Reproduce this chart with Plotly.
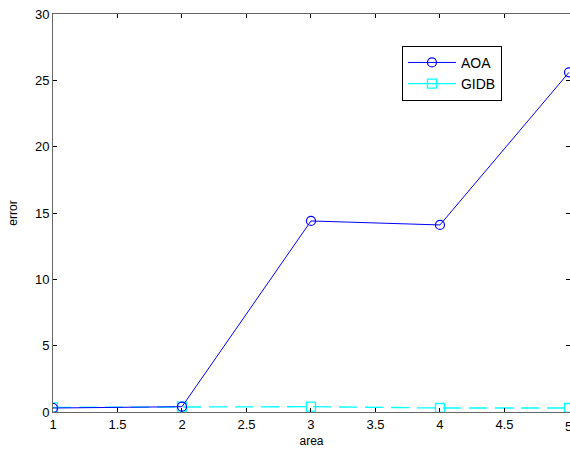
import plotly.graph_objects as go

area = [1, 2, 3, 4, 5]
aoa = [0.3, 0.4, 14.4, 14.1, 25.6]
gidb = [0.35, 0.4, 0.4, 0.3, 0.3]

x_ticks = [1, 1.5, 2, 2.5, 3, 3.5, 4, 4.5, 5]
y_ticks = [0, 5, 10, 15, 20, 25, 30]

font = dict(family="Liberation Sans, Arial, sans-serif", size=13, color="#000")

fig = go.Figure()
fig.add_trace(go.Scatter(
    x=area, y=gidb, mode="lines+markers", name="GIDB", showlegend=False,
    line=dict(color="#00ffff", width=1.3, dash="18px,8px"),
    marker=dict(symbol="square-open", size=9, color="#00ffff", line=dict(width=1.3)),
))
fig.add_trace(go.Scatter(
    x=area, y=aoa, mode="lines+markers", name="AOA",
    line=dict(color="#0000ff", width=1),
    marker=dict(symbol="circle-open", size=9, color="#0000ff", line=dict(width=1.2)),
))
fig.add_trace(go.Scatter(
    x=[None], y=[None], mode="lines+markers", name="GIDB",
    line=dict(color="#00ffff", width=1.3),
    marker=dict(symbol="square-open", size=9, color="#00ffff", line=dict(width=1.3)),
))
# invisible trace to carry the right-hand tick axis
fig.add_trace(go.Scatter(
    x=[None], y=[None], yaxis="y2", showlegend=False, hoverinfo="skip",
))

fig.update_layout(
    width=570, height=452,
    margin=dict(l=53, r=0, t=14, b=40),
    paper_bgcolor="white", plot_bgcolor="white",
    font=font,
    showlegend=True,
    legend=dict(
        x=0.675, y=0.92, xanchor="left", yanchor="top",
        bordercolor="#000", borderwidth=1, bgcolor="white",
        font=dict(size=14), tracegroupgap=0, itemwidth=48,
    ),
    xaxis=dict(
        range=[1, 5.008], tickvals=x_ticks[:-1], ticktext=[str(v) for v in x_ticks[:-1]],
        ticks="inside", ticklen=4, tickcolor="#000", showline=True, linecolor="#666",
        linewidth=1, mirror="ticks", showgrid=False, zeroline=False,
        title=dict(text="area", standoff=6, font=dict(size=12)),
    ),
    yaxis=dict(
        range=[0, 30], tickvals=y_ticks, ticks="inside", ticklen=4, tickcolor="#000",
        showline=True, linecolor="#666", linewidth=1, mirror=False,
        showgrid=False, zeroline=False,
        title=dict(text="error", standoff=14, font=dict(size=12)),
    ),
    yaxis2=dict(
        range=[0, 30], tickvals=y_ticks, ticks="inside", ticklen=4, tickcolor="#000",
        overlaying="y", side="right", showline=False, showticklabels=False,
        showgrid=False, zeroline=False,
    ),
)

# the last x tick label ("5") sits at the very edge and is cut off in the original
fig.add_annotation(
    x=x_ticks[-1], y=0, xref="x", yref="y", text=str(x_ticks[-1]),
    showarrow=False, yanchor="top", yshift=-5, font=dict(size=13),
)

fig.write_html("out.html")
